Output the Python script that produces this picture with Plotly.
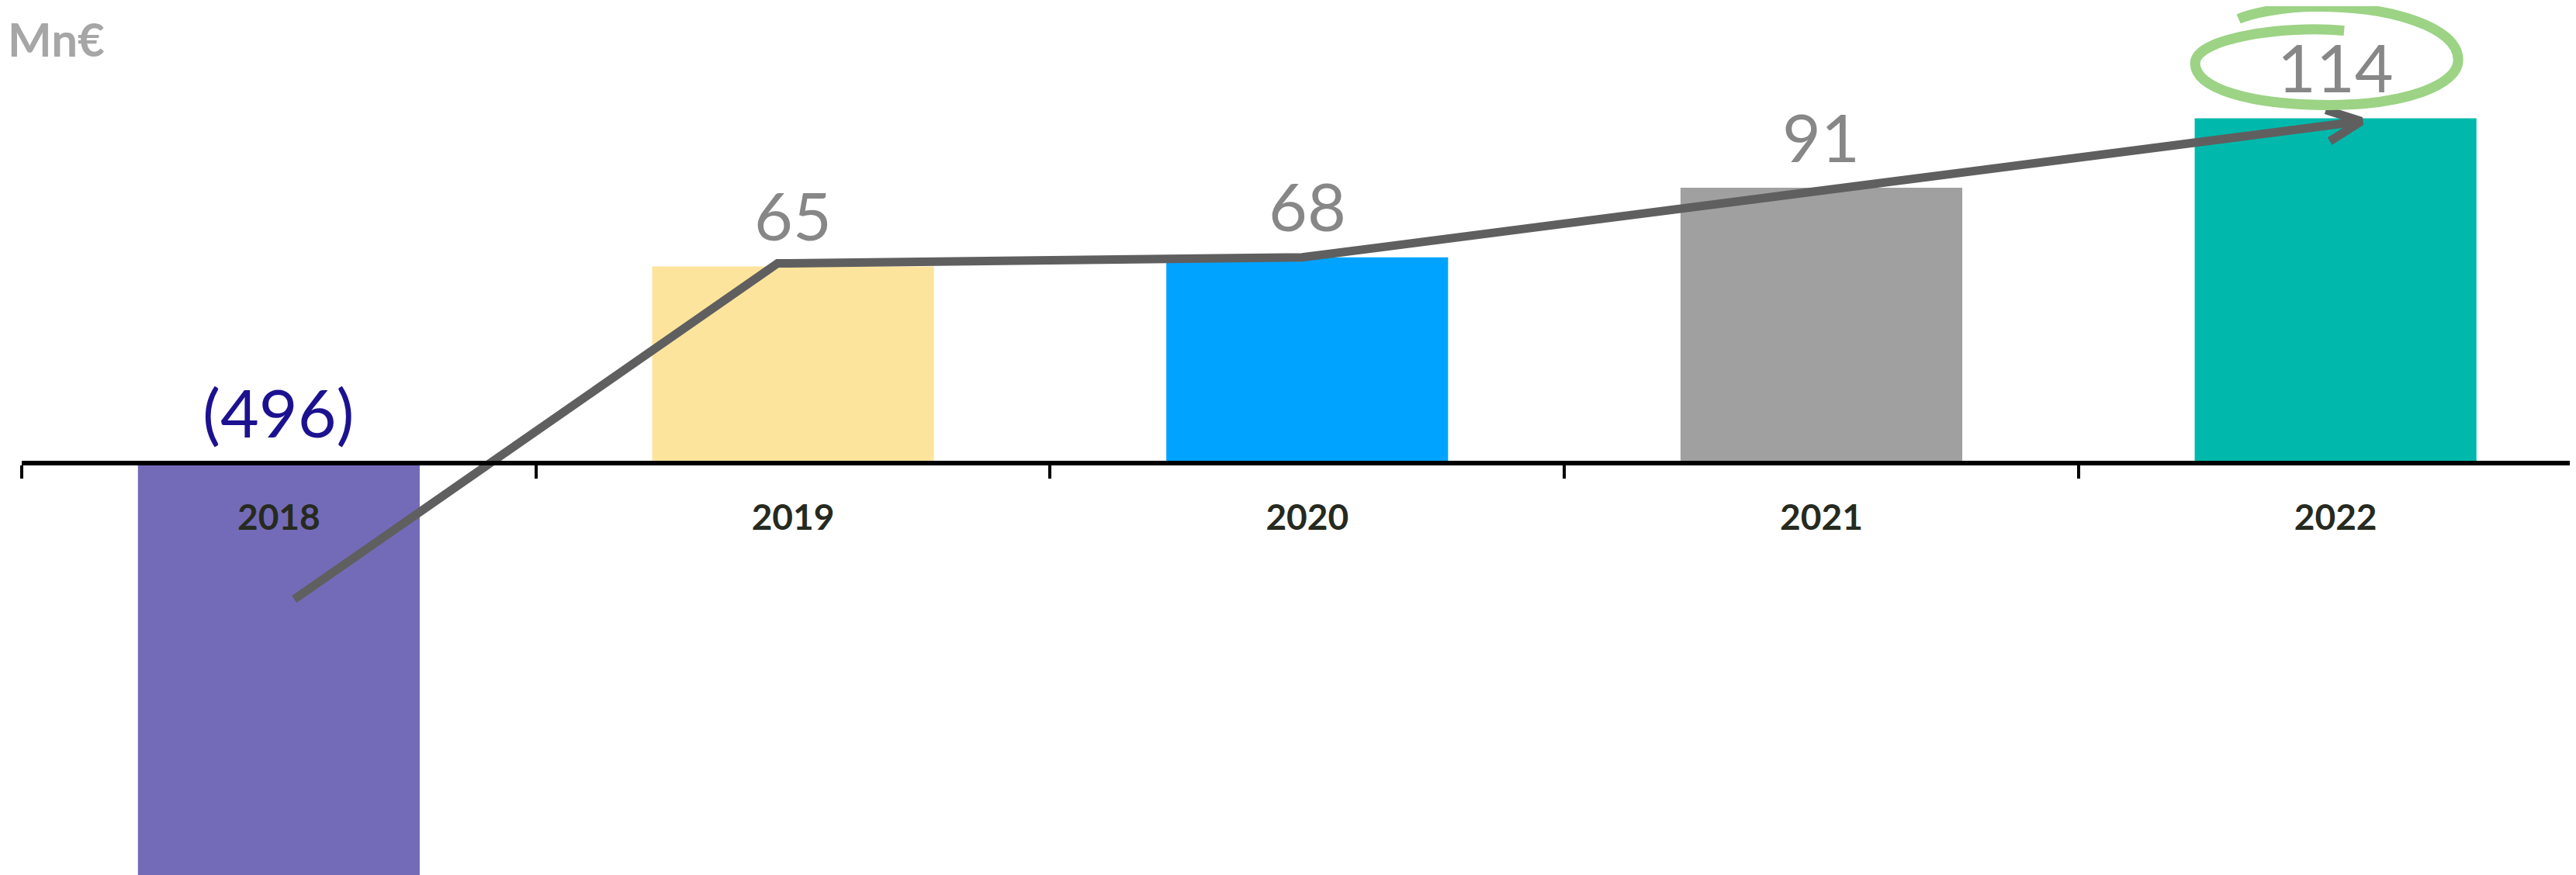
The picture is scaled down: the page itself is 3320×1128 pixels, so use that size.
import math
import plotly.graph_objects as go

# ---------------- data ----------------
years = ["2018", "2019", "2020", "2021", "2022"]
values = [-496, 65, 68, 91, 114]
bar_colors = ["#736bb7", "#fde49d", "#00a3ff", "#a0a0a0", "#00b9ac"]
trend_x = [0.03, 0.97, 1.99, 3.0, 4.05]
trend_y = [-45, 66, 68, 90, 113]
unit_label = "Mn€"

# ---------------- layout constants ----------------
# page body has an 8px margin, so the figure is sized to fit the window
W, H = 3312, 1120
ML = 20
PX_PER_CAT = 662.7
PX_PER_UNIT = 3.9
ZERO_PX = 589
XR = [-0.5, -0.5 + (W - ML) / PX_PER_CAT]
YR = [-(H - ZERO_PX) / PX_PER_UNIT, ZERO_PX / PX_PER_UNIT]
zero_pos = (0 - YR[0]) / (YR[1] - YR[0])


def x_to_px(x):
    return ML + (x - XR[0]) / (XR[1] - XR[0]) * (W - ML)


def y_to_py(y):
    return (YR[1] - y) / (YR[1] - YR[0]) * H


def px_to_x(px):
    return XR[0] + (px - ML) / (W - ML) * (XR[1] - XR[0])


def py_to_y(py):
    return YR[1] - py / H * (YR[1] - YR[0])


def fmt(v):
    return f"({abs(v)})" if v < 0 else str(v)


fig = go.Figure()

fig.add_trace(go.Bar(
    x=years, y=values, marker=dict(color=bar_colors, line=dict(width=0)),
    width=0.548, xaxis="x", yaxis="y", hoverinfo="skip",
))

LINE_COLOR = "#5f5f5f"
LINE_W = 11

# trend line
fig.add_trace(go.Scatter(
    x=trend_x, y=trend_y, mode="lines", xaxis="x2", yaxis="y",
    line=dict(color=LINE_COLOR, width=LINE_W), hoverinfo="skip",
    cliponaxis=False,
))

# chevron arrow head computed from the last segment direction
tx, ty = x_to_px(trend_x[-1]), y_to_py(trend_y[-1])
sx, sy = x_to_px(trend_x[-2]), y_to_py(trend_y[-2])
dx, dy = sx - tx, sy - ty
n = math.hypot(dx, dy)
dx, dy = dx / n, dy / n
L = 48
arms = []
for ang in (25, -25):
    a = math.radians(ang)
    rx = dx * math.cos(a) - dy * math.sin(a)
    ry = dx * math.sin(a) + dy * math.cos(a)
    arms.append((tx + L * rx, ty + L * ry))
fig.add_trace(go.Scatter(
    x=[px_to_x(arms[0][0]), trend_x[-1], px_to_x(arms[1][0])],
    y=[py_to_y(arms[0][1]), trend_y[-1], py_to_y(arms[1][1])],
    mode="lines", xaxis="x2", yaxis="y",
    line=dict(color=LINE_COLOR, width=LINE_W), hoverinfo="skip",
    cliponaxis=False,
))

# value labels
for i, v in enumerate(values):
    fig.add_annotation(
        x=i, y=max(v, 0), xref="x2", yref="y", text=fmt(v), showarrow=False,
        yanchor="middle", xanchor="center", yshift=67,
        font=dict(family="Lato", size=86,
                  color="#1c1290" if v < 0 else "#878787"),
    )

# hand-drawn highlight loop around the last label
cx, cy = x_to_px(4), y_to_py(values[-1]) - 67
loop = [
    ("M", [(11, -46)]),
    ("C", [(-69, -53), (-181, -36), (-181, -4)]),
    ("C", [(-181, 29), (-109, 50), (-9, 50)]),
    ("C", [(91, 50), (158, 24), (158, -8)]),
    ("C", [(158, -51), (71, -77), (-24, -77)]),
    ("C", [(-69, -77), (-109, -68), (-125, -61)]),
]
path = ""
for cmd, pts in loop:
    path += cmd + " " + " ".join(
        f"{px_to_x(cx + a):.5f},{py_to_y(cy + b):.4f}" for a, b in pts) + " "
fig.add_shape(type="path", path=path.strip(), xref="x2", yref="y",
              line=dict(color="#9cd385", width=13), layer="above")

# unit label
fig.add_annotation(
    x=0, y=1, xref="paper", yref="paper", text=f"<b>{unit_label}</b>",
    showarrow=False, xanchor="left", yanchor="top", xshift=-ML, yshift=-4,
    font=dict(family="Lato", size=60, color="#a6a6a6"),
)

fig.update_layout(
    width=W, height=H,
    margin=dict(l=ML, r=0, t=0, b=0),
    paper_bgcolor="white", plot_bgcolor="white",
    showlegend=False,
    xaxis=dict(
        type="category", range=XR, anchor="free", position=zero_pos,
        showline=True, linecolor="black", linewidth=6,
        ticks="outside", ticklen=17, tickwidth=4, tickcolor="black",
        tickson="boundaries", showgrid=False, zeroline=False,
        tickfont=dict(family="Lato", size=46, color="#262a1f", weight="bold"),
        ticklabelstandoff=28,
    ),
    xaxis2=dict(range=XR, overlaying="x", anchor="y", visible=False),
    yaxis=dict(range=YR, visible=False, domain=[0, 1], showgrid=False,
               zeroline=False),
)

fig.write_html("out.html")
